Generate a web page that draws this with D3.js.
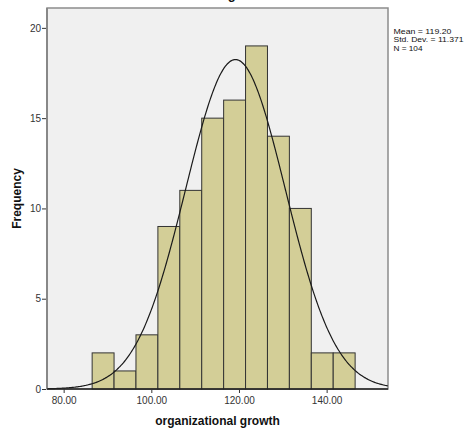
<!DOCTYPE html>
<html><head><meta charset="utf-8">
<script src="https://cdn.jsdelivr.net/npm/d3@7"></script>
<style>body{margin:0;background:#fff}svg{display:block;font-family:"Liberation Sans",Arial,sans-serif}</style>
</head><body><svg id="c" width="466" height="434"></svg>
<script>
const binStarts = [86.5, 91.5, 96.5, 101.5, 106.5, 111.5, 116.5, 121.5, 126.5, 131.5, 136.5, 141.5];
const binWidth = 5;
const counts = [2, 1, 3, 9, 11, 15, 16, 19, 14, 10, 2, 2];
const xTicks = [80, 100, 120, 140];
const yTicks = [0, 5, 10, 15, 20];
const mean = 119.20, sd = 11.371, n = 104;
const statsLines = ["Mean = 119.20", "Std. Dev. = 11.371", "N = 104"];

const svg = d3.select("#c");
const L = 47, R = 388, T = 8, B = 389;
const x = d3.scaleLinear().domain([76.2, 154]).range([L, R]);
const y = d3.scaleLinear().domain([0, 21.1]).range([B, T]);

svg.append("rect").attr("x", L).attr("y", T).attr("width", R - L).attr("height", B - T)
  .attr("fill", "#f0f0f0").attr("stroke", "#8c8c8c").attr("stroke-width", 1.5);

svg.append("g").selectAll("rect").data(binStarts).join("rect")
  .attr("x", (d) => x(d)).attr("width", (d) => x(d + binWidth) - x(d))
  .attr("y", (d, i) => y(counts[i])).attr("height", (d, i) => y(0) - y(counts[i]))
  .attr("fill", "#d3ce97").attr("stroke", "#333").attr("stroke-width", 1);

const pdf = (v) => n * binWidth * Math.exp(-0.5 * ((v - mean) / sd) ** 2) / (sd * Math.sqrt(2 * Math.PI));
const xs = d3.range(76.2, 154.01, 0.25);
svg.append("path").datum(xs)
  .attr("d", d3.line().x((d) => x(d)).y((d) => y(pdf(d))).curve(d3.curveBasis))
  .attr("fill", "none").attr("stroke", "#1a1a1a").attr("stroke-width", 1.2);

// axes lines
svg.append("line").attr("x1", L).attr("x2", L).attr("y1", T).attr("y2", B).attr("stroke", "#888").attr("stroke-width", 2);
svg.append("line").attr("x1", L).attr("x2", R).attr("y1", B).attr("y2", B).attr("stroke", "#222").attr("stroke-width", 1.5);

const ya = svg.append("g").attr("transform", `translate(${L - 1},0)`)
  .call(d3.axisLeft(y).tickValues(yTicks).tickFormat(d3.format("d")).tickSize(4).tickPadding(1));
ya.select(".domain").remove();
ya.selectAll("text").attr("font-size", 10).attr("fill", "#333").attr("font-family", "Liberation Sans, Arial");
ya.selectAll("line").attr("stroke", "#333");

const xa = svg.append("g").attr("transform", `translate(0,${B})`)
  .call(d3.axisBottom(x).tickValues(xTicks).tickFormat(d3.format(".2f")).tickSize(4).tickPadding(4));
xa.select(".domain").remove();
xa.selectAll("text").attr("font-size", 10).attr("fill", "#333").attr("font-family", "Liberation Sans, Arial");
xa.selectAll("line").attr("stroke", "#333");

svg.append("text").attr("x", (L + R) / 2).attr("y", 425).attr("text-anchor", "middle")
  .attr("font-size", 12).attr("font-weight", "bold").attr("fill", "#111").text("organizational growth");
svg.append("text").attr("transform", `translate(21,${(T + B) / 2}) rotate(-90)`).attr("text-anchor", "middle")
  .attr("font-size", 12).attr("font-weight", "bold").attr("fill", "#111").text("Frequency");
svg.append("text").attr("x", (L + R) / 2 + 10).attr("y", -1).attr("text-anchor", "middle")
  .attr("font-size", 13).attr("font-weight", "bold").attr("fill", "#111").text("Histogram");

const statsWidths = [58, 70, 29];
svg.append("g").selectAll("text").data(statsLines).join("text")
  .attr("x", 393.5).attr("y", (d, i) => 33.5 + i * 8.7).attr("font-size", 7.8)
  .attr("textLength", (d, i) => statsWidths[i]).attr("lengthAdjust", "spacingAndGlyphs")
  .attr("fill", "#111").text((d) => d);
</script></body></html>
